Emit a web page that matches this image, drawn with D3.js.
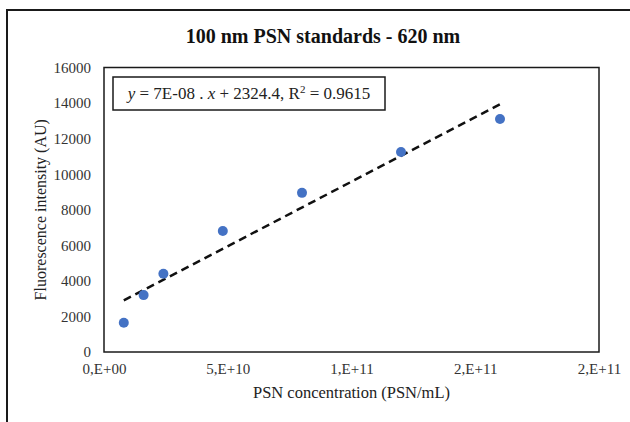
<!DOCTYPE html>
<html>
<head>
<meta charset="utf-8">
<script src="https://cdn.jsdelivr.net/npm/d3@7"></script>
<style>
  body { margin: 0; background: #fff; }
</style>
</head>
<body>
<div id="grafico"></div>
<script>
// dados
const concentracao = [8e9, 1.6e10, 2.4e10, 4.8e10, 8e10, 1.2e11, 1.6e11];
const fluorescencia = [1650, 3200, 4400, 6800, 8950, 11250, 13100];
const ticksX = [0, 5e10, 1e11, 1.5e11, 2e11];
const rotulosX = ['0,E+00', '5,E+10', '1,E+11', '2,E+11', '2,E+11'];
const ticksY = [0, 2000, 4000, 6000, 8000, 10000, 12000, 14000, 16000];
const titulo = '100 nm PSN standards - 620 nm';
const tituloX = 'PSN concentration (PSN/mL)';
const tituloY = 'Fluorescence intensity (AU)';

const fonte = "'Liberation Serif', 'DejaVu Serif', serif";
const largura = 630;
const altura = 422;
const area = { left: 104, top: 67.5, right: 599, bottom: 352 };

const svg = d3
  .select('#grafico')
  .append('svg')
  .attr('width', largura)
  .attr('height', altura)
  .style('font-family', fonte);

// moldura externa
svg
  .append('rect')
  .attr('x', 7)
  .attr('y', 10)
  .attr('width', 660)
  .attr('height', 440)
  .attr('fill', 'none')
  .attr('stroke', '#1a1a1a')
  .attr('stroke-width', 2);

const x = d3.scaleLinear().domain([0, 2e11]).range([area.left, area.right]);
const y = d3.scaleLinear().domain([0, 16000]).range([area.bottom, area.top]);

// título
svg
  .append('text')
  .attr('x', 323)
  .attr('y', 43)
  .attr('text-anchor', 'middle')
  .style('font-family', fonte)
  .style('font-size', '20px')
  .style('font-weight', 'bold')
  .attr('fill', '#111')
  .text(titulo);

// eixos (sem marcas)
const eixoX = svg
  .append('g')
  .attr('transform', `translate(0,${area.bottom})`)
  .call(
    d3
      .axisBottom(x)
      .tickValues(ticksX)
      .tickSize(0)
      .tickPadding(11)
      .tickFormat((d, i) => rotulosX[i])
  );

const eixoY = svg
  .append('g')
  .attr('transform', `translate(${area.left},0)`)
  .call(d3.axisLeft(y).tickValues(ticksY).tickSize(0).tickPadding(13).tickFormat(d3.format('d')));

[eixoX, eixoY].forEach((g) => {
  g.attr('font-family', null);
  g.select('.domain').remove();
  g.selectAll('text')
    .style('font-family', fonte)
    .style('font-size', '15px')
    .attr('fill', '#333');
});

// caixa da área do gráfico
svg
  .append('rect')
  .attr('x', area.left)
  .attr('y', area.top)
  .attr('width', area.right - area.left)
  .attr('height', area.bottom - area.top)
  .attr('fill', 'none')
  .attr('stroke', '#1a1a1a')
  .attr('stroke-width', 1.5);

// linha de tendência (regressão linear)
const dados = concentracao.map((c, i) => ({ c: c, f: fluorescencia[i] }));
const mx = d3.mean(dados, (d) => d.c);
const my = d3.mean(dados, (d) => d.f);
const inclinacao =
  d3.sum(dados, (d) => (d.c - mx) * (d.f - my)) / d3.sum(dados, (d) => (d.c - mx) ** 2);
const intercepto = my - inclinacao * mx;
const extremos = d3.extent(concentracao).map((c) => ({ c: c, f: inclinacao * c + intercepto }));

const linha = d3
  .line()
  .x((d) => x(d.c))
  .y((d) => y(d.f));

svg
  .append('path')
  .datum(extremos)
  .attr('d', linha)
  .attr('fill', 'none')
  .attr('stroke', '#111')
  .attr('stroke-width', 2.5)
  .attr('stroke-dasharray', '8,5');

// pontos
svg
  .selectAll('.ponto')
  .data(dados)
  .enter()
  .append('circle')
  .attr('class', 'ponto')
  .attr('cx', (d) => x(d.c))
  .attr('cy', (d) => y(d.f))
  .attr('r', 5)
  .attr('fill', '#4472C4');

// caixa da equação
svg
  .append('rect')
  .attr('x', 113)
  .attr('y', 77)
  .attr('width', 272)
  .attr('height', 33)
  .attr('fill', '#fff')
  .attr('stroke', '#1a1a1a')
  .attr('stroke-width', 1.5);

const eq = svg
  .append('text')
  .attr('x', 249)
  .attr('y', 99)
  .attr('text-anchor', 'middle')
  .style('font-family', fonte)
  .style('font-size', '17px')
  .attr('fill', '#222');
eq.append('tspan').style('font-style', 'italic').text('y');
eq.append('tspan').text(' = 7E-08 . ');
eq.append('tspan').style('font-style', 'italic').text('x');
eq.append('tspan').text(' + 2324.4, R');
eq.append('tspan').attr('dy', -6).style('font-size', '11px').text('2');
eq.append('tspan').attr('dy', 6).text(' = 0.9615');

// títulos dos eixos
svg
  .append('text')
  .attr('x', (area.left + area.right) / 2)
  .attr('y', 398)
  .attr('text-anchor', 'middle')
  .style('font-family', fonte)
  .style('font-size', '16.5px')
  .attr('fill', '#222')
  .text(tituloX);

svg
  .append('text')
  .attr('transform', `translate(46,${(area.top + area.bottom) / 2}) rotate(-90)`)
  .attr('text-anchor', 'middle')
  .style('font-family', fonte)
  .style('font-size', '16px')
  .attr('fill', '#222')
  .text(tituloY);
</script>
</body>
</html>
